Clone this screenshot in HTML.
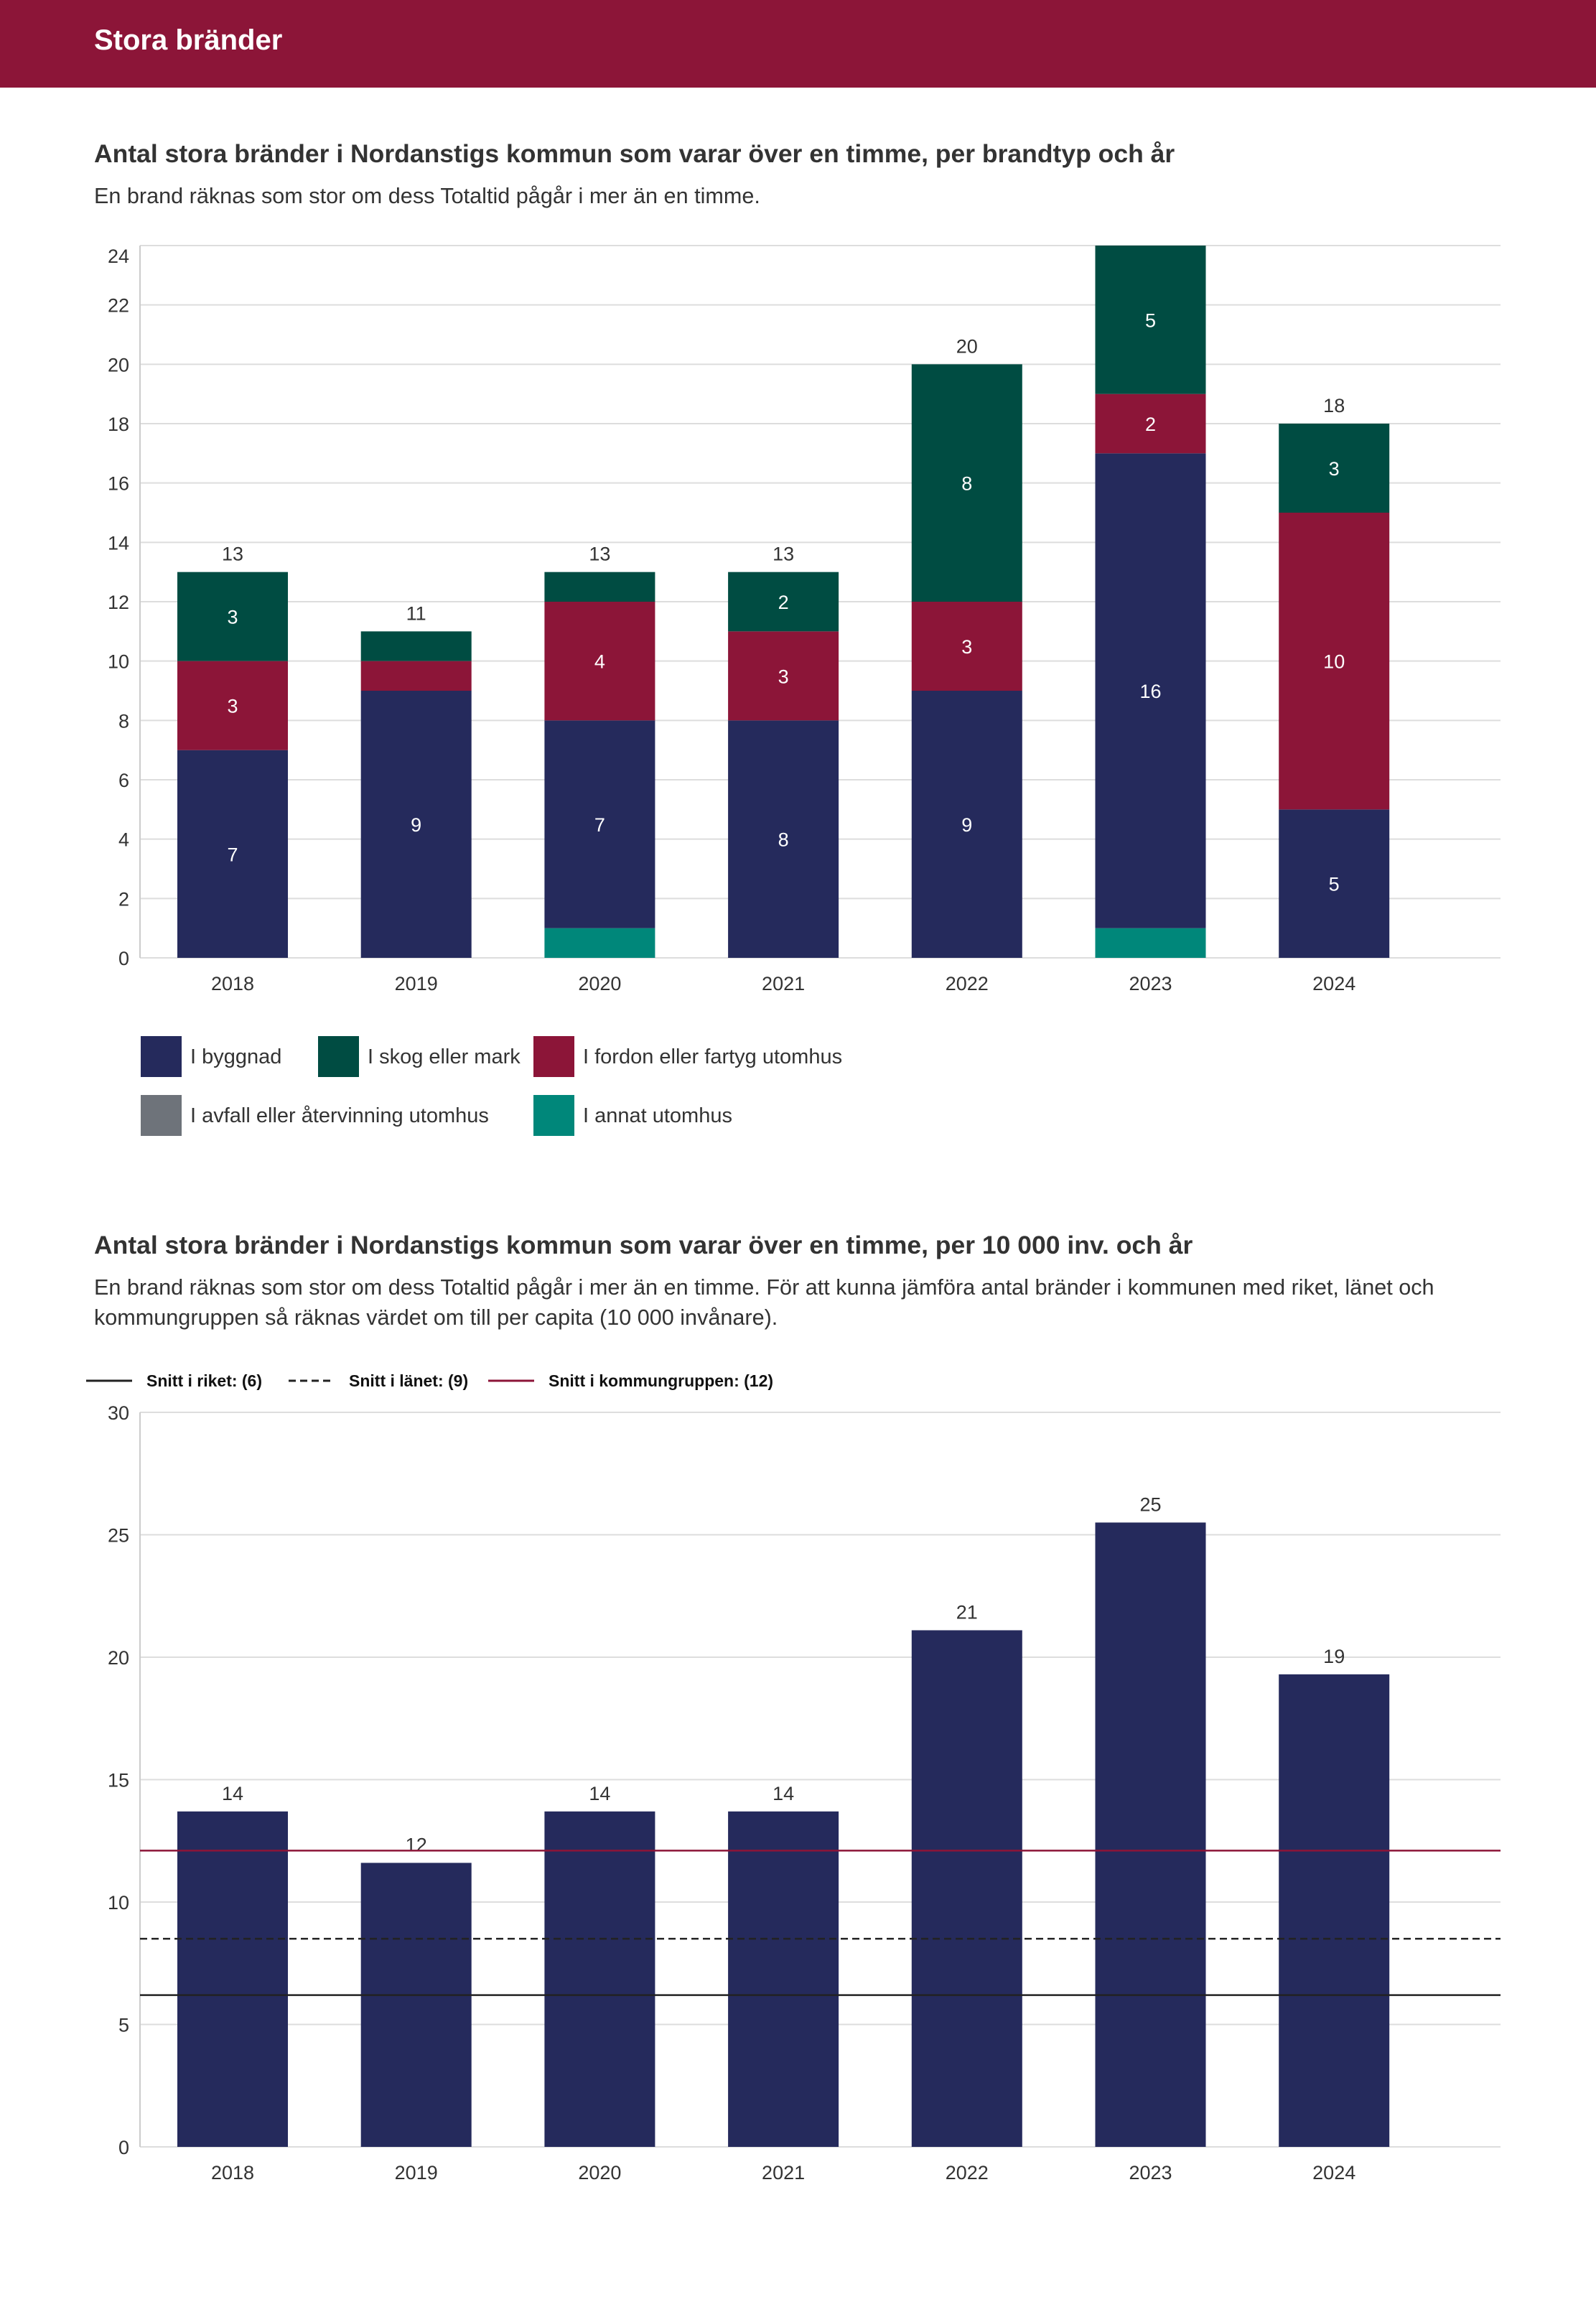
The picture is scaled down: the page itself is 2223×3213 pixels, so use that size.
<!DOCTYPE html>
<html><head><meta charset="utf-8"><style>
body{margin:0;width:2223px;height:3213px;background:#fff;font-family:"Liberation Sans",sans-serif;color:#333;overflow:hidden}
#hdr{position:absolute;left:0;top:0;width:2223px;height:122px;background:#8c1538}
#hdr span{position:absolute;left:131px;top:34px;color:#fff;font-size:40px;font-weight:bold}
svg{position:absolute;left:0;top:0}
</style></head><body>
<div id="hdr"><span>Stora bränder</span></div>
<svg id="s" width="2223" height="3213"></svg>
<script>
const years=["2018","2019","2020","2021","2022","2023","2024"];
const annat=[0,0,1,0,0,1,0];
const byggnad=[7,9,7,8,9,16,5];
const fordon=[3,1,4,3,3,2,10];
const skog=[3,1,1,2,8,5,3];
const totals=[13,11,13,13,20,24,18];
const yTicks1=[0,2,4,6,8,10,12,14,16,18,20,22,24];
const perCap=[13.7,11.6,13.7,13.7,21.1,25.5,19.3];
const perCapLabels=["14","12","14","14","21","25","19"];
const yTicks2=[0,5,10,15,20,25,30];
const avgRiket=6.2, avgLan=8.5, avgGrupp=12.1;

const S=document.getElementById('s');const NS="http://www.w3.org/2000/svg";
function el(t,a,txt){const e=document.createElementNS(NS,t);for(const k in a)e.setAttribute(k,a[k]);if(txt!=null)e.textContent=txt;S.appendChild(e);return e;}
const L=195,R=2090;
const xc=i=>324+i*255.7, BW=154;
let t=el('text',{x:131,y:226,'font-size':35.5,'font-weight':'bold',fill:'#333'},'Antal stora bränder i Nordanstigs kommun som varar över en timme, per brandtyp och år');

t=el('text',{x:131,y:283,'font-size':30.6,fill:'#333'},'En brand räknas som stor om dess Totaltid pågår i mer än en timme.');

const y1=v=>1334-v*(1334-342)/24;
yTicks1.forEach(v=>{let g=el('line',{x1:L,x2:R,y1:y1(v),y2:y1(v),stroke:'#ddd','stroke-width':2});

let off=(v===24)?24:10;
let tx=el('text',{x:180,y:y1(v)+off,'font-size':27,'text-anchor':'end',fill:'#333'},v);
});
el('line',{x1:L,x2:L,y1:342,y2:1334,stroke:'#ccc','stroke-width':2});
const series=[[annat,'#00877a'],[byggnad,'#252a5c'],[fordon,'#8c1538'],[skog,'#004c42']];
years.forEach((yr,i)=>{let base=0;
series.forEach(([arr,c])=>{const v=arr[i];if(!v)return;
let r=el('rect',{x:xc(i)-BW/2,y:y1(base+v),width:BW,height:y1(base)-y1(base+v),fill:c});

if(v>=2){let l=el('text',{x:xc(i),y:(y1(base)+y1(base+v))/2+10,'font-size':27,'text-anchor':'middle',fill:'#fff'},v);
}
base+=v;});
if(totals[i]<24){
let tl=el('text',{x:xc(i),y:y1(totals[i])-16,'font-size':27,'text-anchor':'middle',fill:'#333'},totals[i]);
}
let xl=el('text',{x:xc(i),y:1379,'font-size':27,'text-anchor':'middle',fill:'#333'},yr);
});
const leg=[['I byggnad','#252a5c',196,1471],['I skog eller mark','#004c42',443,1471],['I fordon eller fartyg utomhus','#8c1538',743,1471],['I avfall eller återvinning utomhus','#6e737a',196,1553],['I annat utomhus','#00877a',743,1553]];
leg.forEach(([n,c,x,y])=>{let r=el('rect',{x:x,y:y-28,width:57,height:57,fill:c});

let tx=el('text',{x:x+69,y:y+10,'font-size':29,fill:'#333'},n);
});
t=el('text',{x:131,y:1746,'font-size':35.5,'font-weight':'bold',fill:'#333'},'Antal stora bränder i Nordanstigs kommun som varar över en timme, per 10 000 inv. och år');

t=el('text',{x:131,y:1803,'font-size':30.6,fill:'#333'},'En brand räknas som stor om dess Totaltid pågår i mer än en timme. För att kunna jämföra antal bränder i kommunen med riket, länet och');

t=el('text',{x:131,y:1845,'font-size':30.6,fill:'#333'},'kommungruppen så räknas värdet om till per capita (10 000 invånare).');

const l2=[['Snitt i riket: (6)','#222','none',120],['Snitt i länet: (9)','#222','10,6',402],['Snitt i kommungruppen: (12)','#8c1538','none',680]];
l2.forEach(([n,c,d,x])=>{let ln=el('line',{x1:x,x2:x+64,y1:1923,y2:1923,stroke:c,'stroke-width':3,'stroke-dasharray':d});

let tx=el('text',{x:x+84,y:1931,'font-size':23,'font-weight':'bold',fill:'#111'},n);
});
const y2=v=>2990-v*(2990-1967)/30;
yTicks2.forEach(v=>{let g=el('line',{x1:L,x2:R,y1:y2(v),y2:y2(v),stroke:'#ddd','stroke-width':2});

let tx=el('text',{x:180,y:y2(v)+10,'font-size':27,'text-anchor':'end',fill:'#333'},v);
});
el('line',{x1:L,x2:L,y1:1967,y2:2990,stroke:'#ccc','stroke-width':2});
years.forEach((yr,i)=>{let r=el('rect',{x:xc(i)-BW/2,y:y2(perCap[i]),width:BW,height:y2(0)-y2(perCap[i]),fill:'#252a5c'});

let tl=el('text',{x:xc(i),y:y2(perCap[i])-16,'font-size':27,'text-anchor':'middle',fill:'#333'},perCapLabels[i]);

let xl=el('text',{x:xc(i),y:3035,'font-size':27,'text-anchor':'middle',fill:'#333'},yr);
});
[[avgRiket,'#222','none','avg-riket-line'],[avgLan,'#222','10,6','avg-lan-line'],[avgGrupp,'#8c1538','none','avg-kommungrupp-line']].forEach(([v,c,d,n])=>{
let ln=el('line',{x1:L,x2:R,y1:y2(v),y2:y2(v),stroke:c,'stroke-width':2.5,'stroke-dasharray':d});
});
</script>
</body></html>
